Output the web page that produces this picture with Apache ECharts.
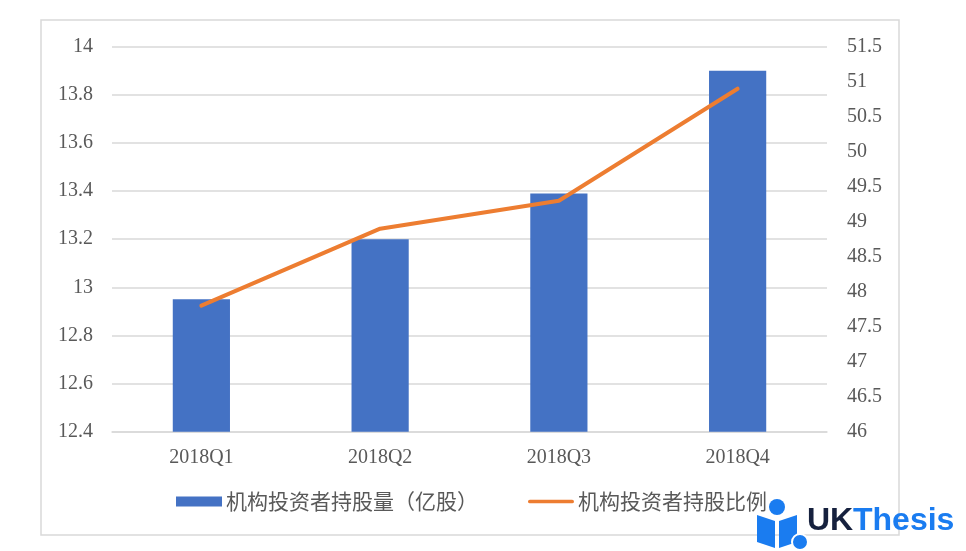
<!DOCTYPE html>
<html><head><meta charset="utf-8">
<script src="https://cdn.jsdelivr.net/npm/echarts@6/dist/echarts.min.js"></script>
<style>html,body{margin:0;padding:0;background:#fff}#c{width:966px;height:551px}</style>
</head><body><div id="c"></div>
<script>
const categories = ['2018Q1','2018Q2','2018Q3','2018Q4'];
const holdings = [12.95, 13.2, 13.39, 13.9];
const ratio = [47.8, 48.9, 49.3, 50.9];
const seriesNames = ['机构投资者持股量（亿股）','机构投资者持股比例'];

const chart = echarts.init(document.getElementById('c'));
const serif = '"Liberation Serif", "Times New Roman", serif';
const cjk = '"Noto Sans CJK SC", sans-serif';
chart.setOption({
  animation: false,
  backgroundColor: '#fff',
  grid: { left: 112, right: 139, top: 46.7, bottom: 119.3 },
  legend: {
    bottom: 34, left: 171, itemGap: 50,
    itemWidth: 46, itemHeight: 10,
    textStyle: { color: '#595959', fontSize: 21, fontFamily: cjk, padding: [0,0,0,-1] },
    data: [
      { name: seriesNames[0], icon: 'rect' },
      { name: seriesNames[1], icon: 'path://M2,0 L48,0 A2,2 0 0 1 48,4 L2,4 A2,2 0 0 1 2,0 Z' }
    ]
  },
  xAxis: {
    type: 'category', data: categories,
    axisLine: { lineStyle: { color: '#d9d9d9', width: 1.5 } },
    axisTick: { show: false },
    axisLabel: { color: '#595959', fontSize: 20, fontFamily: serif, margin: 16 }
  },
  yAxis: [
    { type: 'value', min: 12.4, max: 14, interval: 0.2,
      axisLine: { show: false }, axisTick: { show: false },
      axisLabel: { color: '#595959', fontSize: 20, fontFamily: serif, margin: 19 },
      splitLine: { lineStyle: { color: '#d9d9d9', width: 1.5 } } },
    { type: 'value', min: 46, max: 51.5, interval: 0.5, position: 'right',
      axisLine: { show: false }, axisTick: { show: false },
      axisLabel: { color: '#595959', fontSize: 20, fontFamily: serif, margin: 20 },
      splitLine: { show: false } }
  ],
  series: [
    { name: seriesNames[0], type: 'bar', data: holdings, yAxisIndex: 0,
      barWidth: '32%', itemStyle: { color: '#4472C4' } },
    { name: seriesNames[1], type: 'line', data: ratio, yAxisIndex: 1,
      showSymbol: false, symbol: 'none',
      lineStyle: { color: '#ED7D31', width: 4, cap: 'round' }, itemStyle: { color: '#ED7D31' } }
  ],
  graphic: [
    { type: 'rect', z: -1, shape: { x: 41, y: 20, width: 858, height: 515 },
      style: { fill: 'none', stroke: '#d9d9d9', lineWidth: 1.5 } },
    { type: 'circle', z: 10, shape: { cx: 777, cy: 507, r: 8 }, style: { fill: '#1a7cf0' } },
    { type: 'polygon', z: 10, shape: { points: [[757,515],[775,521],[775,548],[757,542]] }, style: { fill: '#1a7cf0' } },
    { type: 'polygon', z: 10, shape: { points: [[779,521],[797,515],[797,542],[779,548]] }, style: { fill: '#1a7cf0' } },
    { type: 'circle', z: 11, shape: { cx: 800, cy: 542, r: 8 }, style: { fill: '#1a7cf0', stroke: '#fff', lineWidth: 2 } },
    { type: 'text', z: 10, left: 807, top: 505,
      style: { text: 'UK', fill: '#16213e', font: 'bold 32px "Liberation Sans", Arial, sans-serif' } },
    { type: 'text', z: 10, left: 853, top: 505,
      style: { text: 'Thesis', fill: '#1a7cf0', font: 'bold 32px "Liberation Sans", Arial, sans-serif' } }
  ]
});
</script></body></html>
